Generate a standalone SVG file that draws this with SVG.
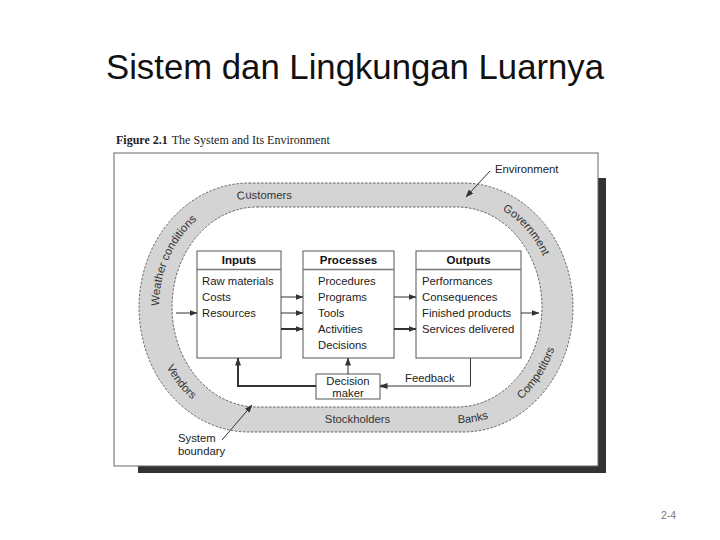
<svg xmlns="http://www.w3.org/2000/svg" xmlns:xlink="http://www.w3.org/1999/xlink" width="720" height="540" viewBox="0 0 720 540">
<style>
.t{font-family:"Liberation Sans",Arial,sans-serif;font-size:11.3px;fill:#222}
.h{font-family:"Liberation Sans",Arial,sans-serif;font-size:11.5px;font-weight:bold;fill:#111;text-anchor:middle}
.r{font-family:"Liberation Sans",Arial,sans-serif;font-size:11.3px;fill:#333}
.box{fill:#fff;stroke:#555;stroke-width:1}
.div{stroke:#777;stroke-width:1.6}
.c{fill:none;stroke:#333;stroke-width:1}
.ck{fill:none;stroke:#333;stroke-width:2}
</style>
<defs>
<marker id="ah" viewBox="0 0 8 6" refX="7.5" refY="3" markerWidth="8" markerHeight="6" markerUnits="userSpaceOnUse" orient="auto"><path d="M0,0 L8,3 L0,6 Z" fill="#333"/></marker>
<path id="pt" d="M253,416 A94,108.75 0 0 1 159,307.25 A94,108.75 0 0 1 253,198.5 L460,198.5 A94,108.75 0 0 1 554,307.25 A94,108.75 0 0 1 460,416"/>
<path id="pb" d="M253,191.5 A101,115.75 0 0 0 152,307.25 A101,115.75 0 0 0 253,423 L460,423 A101,115.75 0 0 0 561,307.25 A101,115.75 0 0 0 460,191.5"/>
</defs>
<rect width="720" height="540" fill="#fff"/>
<text x="106" y="79" font-family="'Liberation Sans',Arial,sans-serif" font-size="35" fill="#111" textLength="498" lengthAdjust="spacingAndGlyphs">Sistem dan Lingkungan Luarnya</text>
<text x="116" y="144" font-family="'Liberation Serif','Times New Roman',serif" font-size="12" fill="#222"><tspan font-weight="bold">Figure 2.1</tspan><tspan dx="4">The System and Its Environment</tspan></text>
<g id="frame">
<rect x="598" y="178" width="8" height="295" fill="#333"/>
<rect x="138" y="466" width="468" height="7" fill="#333"/>
<rect x="114" y="153" width="484" height="313" fill="#fff" stroke="#666" stroke-width="1"/>
</g>
<g id="environment">
<path d="M249,183 L463,183 A110,124.5 0 0 1 463,432 L249,432 A110,124.5 0 0 1 249,183 Z M257,207 L457,207 A85,100 0 0 1 457,407 L257,407 A85,100 0 0 1 257,207 Z" fill="#d4d4d4" fill-rule="evenodd" stroke="#444" stroke-width="0.8" stroke-dasharray="2.5,1.5"/>
<text class="r"><textPath xlink:href="#pt" href="#pt" startOffset="209" text-anchor="middle">Weather conditions</textPath></text>
<text class="r"><textPath xlink:href="#pt" href="#pt" startOffset="330" text-anchor="middle">Customers</textPath></text>
<text class="r"><textPath xlink:href="#pt" href="#pt" startOffset="601" text-anchor="middle">Government</textPath></text>
<text class="r"><textPath xlink:href="#pb" href="#pb" startOffset="253" text-anchor="middle">Vendors</textPath></text>
<text class="r"><textPath xlink:href="#pb" href="#pb" startOffset="445" text-anchor="middle">Stockholders</textPath></text>
<text class="r"><textPath xlink:href="#pb" href="#pb" startOffset="561" text-anchor="middle">Banks</textPath></text>
<text class="r"><textPath xlink:href="#pb" href="#pb" startOffset="645" text-anchor="middle">Competitors</textPath></text>
<text class="t" x="495" y="173">Environment</text>
<text class="t" x="178" y="442">System</text>
<text class="t" x="178" y="455">boundary</text>
</g>
<g id="inputs">
<rect class="box" x="197" y="251" width="84" height="107"/>
<line class="div" x1="197" y1="269.5" x2="281" y2="269.5"/>
<text class="h" x="239" y="264">Inputs</text>
<text class="t" x="202" y="285">Raw materials</text>
<text class="t" x="202" y="301">Costs</text>
<text class="t" x="202" y="317">Resources</text>
</g>
<g id="processes">
<rect class="box" x="303" y="251" width="91" height="107"/>
<line class="div" x1="303" y1="269.5" x2="394" y2="269.5"/>
<text class="h" x="348.5" y="264">Processes</text>
<text class="t" x="318" y="285">Procedures</text>
<text class="t" x="318" y="301">Programs</text>
<text class="t" x="318" y="317">Tools</text>
<text class="t" x="318" y="333">Activities</text>
<text class="t" x="318" y="349">Decisions</text>
</g>
<g id="outputs">
<rect class="box" x="416" y="251" width="105" height="107"/>
<line class="div" x1="416" y1="269.5" x2="521" y2="269.5"/>
<text class="h" x="468.5" y="264">Outputs</text>
<text class="t" x="422" y="285">Performances</text>
<text class="t" x="422" y="301">Consequences</text>
<text class="t" x="422" y="317">Finished products</text>
<text class="t" x="422" y="333">Services delivered</text>
</g>
<g id="decision-maker">
<rect class="box" x="316" y="374" width="64" height="25"/>
<text class="t" x="348" y="385" text-anchor="middle">Decision</text>
<text class="t" x="348" y="397" text-anchor="middle">maker</text>
</g>
<g id="connectors">
<line class="c" x1="176" y1="313" x2="197" y2="313" marker-end="url(#ah)"/>
<line class="c" x1="281" y1="297" x2="303" y2="297" marker-end="url(#ah)"/>
<line class="c" x1="281" y1="313" x2="303" y2="313" marker-end="url(#ah)"/>
<line class="ck" x1="281" y1="329" x2="303" y2="329" marker-end="url(#ah)"/>
<line class="c" x1="394" y1="297" x2="416" y2="297" marker-end="url(#ah)"/>
<line class="ck" x1="394" y1="329" x2="416" y2="329" marker-end="url(#ah)"/>
<line class="c" x1="521" y1="313" x2="539" y2="313" marker-end="url(#ah)"/>
<line class="c" x1="348" y1="374" x2="348" y2="358" marker-end="url(#ah)"/>
<polyline class="ck" points="316,386 238,386 238,358" marker-end="url(#ah)"/>
<polyline class="c" points="470.5,358 470.5,386 380,386" marker-end="url(#ah)"/>
<circle cx="382" cy="386" r="1.6" fill="#333"/>
<text class="t" x="405" y="382">Feedback</text>
<line class="c" x1="490" y1="171" x2="466" y2="197" marker-end="url(#ah)"/>
<line class="c" x1="222" y1="440" x2="252" y2="405" marker-end="url(#ah)"/>
</g>
<text x="661" y="519" font-family="'Liberation Sans',Arial,sans-serif" font-size="10.5" fill="#777">2-4</text>
</svg>
